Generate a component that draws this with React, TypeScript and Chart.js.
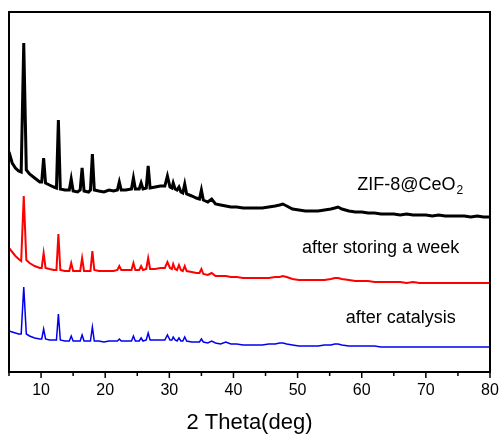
import React, { useEffect, useRef } from "react";
import { Chart, registerables } from "chart.js";

Chart.register(...registerables);

const twoTheta = [
  5.0, 5.5, 6.0, 6.5, 6.9, 7.3, 7.7, 8.2, 9.0, 9.8,
  10.1, 10.4, 10.7, 11.3, 12.0, 12.4, 12.7, 13.0, 13.7, 14.4,
  14.7, 15.0, 15.7, 16.1, 16.4, 16.7, 17.4, 17.7, 18.0, 18.3,
  19.0, 19.8, 20.6, 21.3, 21.9, 22.2, 22.5, 23.2, 24.1, 24.4,
  24.7, 25.3, 25.6, 25.9, 26.4, 26.7, 27.0, 27.8, 28.6, 29.3,
  29.7, 30.1, 30.4, 30.6, 30.9, 31.2, 31.5, 31.8, 32.1, 32.4,
  32.7, 33.5, 34.2, 34.7, 35.0, 35.3, 36.0, 36.6, 37.2, 38.0,
  38.8, 39.6, 40.5, 41.5, 42.5, 43.5, 44.5, 45.5, 46.5, 47.2,
  47.7, 48.3, 49.2, 50.2, 51.2, 52.2, 53.2, 54.2, 55.2, 55.8,
  56.3, 56.9, 58.0, 59.0, 60.0, 61.0, 62.0, 63.0, 64.0, 65.0,
  66.0, 67.0, 68.0, 69.0, 70.0, 71.0, 72.0, 73.0, 74.0, 75.0,
  76.0, 77.0, 78.0, 79.0, 80.0,
];

const zif8CeO2 = [
  220, 209, 204, 201, 200, 329, 202, 198, 194, 190,
  190, 214, 189, 187, 185, 184, 252, 183, 182, 182,
  193, 181, 180, 182, 204, 181, 180, 182, 218, 182,
  181, 180, 182, 181, 182, 190, 182, 182, 183, 194,
  183, 183, 189, 183, 184, 206, 184, 185, 186, 186,
  196, 185, 184, 189, 183, 182, 185, 180, 179, 188,
  178, 176, 174, 173, 182, 172, 170, 173, 168, 167,
  166, 165, 165, 164, 164, 164, 164, 165, 166, 167,
  168, 166, 163, 162, 161, 161, 161, 162, 163, 164,
  165, 163, 161, 160, 160, 159, 159, 158, 158, 158,
  157, 158, 157, 157, 157, 156, 157, 156, 156, 156,
  156, 155, 156, 155, 155,
];

const afterStoring = [
  124, 120, 116, 113, 111, 176, 112, 109, 106, 104,
  104, 119, 104, 103, 102, 102, 138, 102, 101, 101,
  109, 101, 101, 101, 114, 101, 101, 101, 121, 102,
  101, 101, 101, 101, 102, 106, 102, 102, 102, 109,
  102, 102, 106, 102, 103, 114, 103, 103, 104, 104,
  110, 104, 103, 108, 103, 102, 107, 102, 101, 106,
  101, 100, 99, 99, 103, 98, 97, 99, 96, 96,
  96, 95, 95, 94, 94, 94, 94, 94, 95, 95,
  96, 95, 93, 92, 92, 92, 92, 92, 93, 94,
  94, 93, 92, 91, 91, 91, 90, 90, 90, 90,
  90, 89, 90, 89, 89, 89, 89, 89, 89, 89,
  89, 89, 89, 89, 89,
];

const afterCatalysis = [
  41, 40, 39, 38, 38, 85, 38, 36, 34, 33,
  33, 43, 33, 32, 32, 32, 58, 32, 31, 31,
  36, 31, 31, 31, 37, 31, 31, 31, 45, 31,
  31, 30, 31, 31, 31, 33, 31, 31, 31, 36,
  31, 31, 34, 31, 32, 39, 32, 32, 32, 32,
  37, 32, 32, 35, 32, 31, 34, 31, 31, 35,
  31, 30, 30, 30, 33, 30, 29, 31, 29, 28,
  30, 28, 28, 27, 27, 27, 27, 28, 28, 29,
  29, 28, 27, 26, 26, 26, 26, 27, 27, 28,
  28, 27, 26, 26, 26, 26, 26, 25, 25, 25,
  25, 25, 25, 25, 25, 25, 25, 25, 25, 25,
  25, 25, 25, 25, 25,
];

const seriesNames = ["ZIF-8@CeO", "after storing a week", "after catalysis"];
const seriesSub = ["2", "", ""];
const labelX = [59.3, 50.7, 57.5];
const labelY = [187, 124, 54];
const seriesColors = ["#000000", "#ff0000", "#0000f0"];
const seriesWidths = [3, 2, 1.5];

const FONT = '"Liberation Sans", Arial, sans-serif';

const framePlugin = {
  id: "frame",
  afterDraw(chart: any) {
    const { ctx, chartArea } = chart;
    const xs = chart.scales.x;
    const ys = chart.scales.y;
    ctx.save();
    ctx.strokeStyle = "#000";
    ctx.lineWidth = 2;
    ctx.strokeRect(chartArea.left, chartArea.top, chartArea.right - chartArea.left, chartArea.bottom - chartArea.top);
    ctx.lineWidth = 1.5;
    xs.ticks.forEach((t: any) => {
      const px = xs.getPixelForValue(t.value);
      const len = t.value % 10 === 0 ? 6 : 4;
      ctx.beginPath();
      ctx.moveTo(px, chartArea.bottom);
      ctx.lineTo(px, chartArea.bottom + len);
      ctx.stroke();
    });
    ctx.fillStyle = "#000";
    ctx.textBaseline = "middle";
    ctx.textAlign = "left";
    seriesNames.forEach((name, i) => {
      const px = xs.getPixelForValue(labelX[i]);
      const py = ys.getPixelForValue(labelY[i]);
      ctx.font = `18px ${FONT}`;
      ctx.fillText(name, px, py);
      if (seriesSub[i]) {
        const w = ctx.measureText(name).width;
        ctx.font = `12px ${FONT}`;
        ctx.fillText(seriesSub[i], px + w + 1, py + 6);
      }
    });
    ctx.restore();
  },
};

export default function App() {
  const ref = useRef<HTMLCanvasElement | null>(null);
  useEffect(() => {
    if (!ref.current) return;
    const series = [zif8CeO2, afterStoring, afterCatalysis];
    const chart = new Chart(ref.current, {
      type: "line",
      data: {
        datasets: series.map((vals, i) => ({
          label: seriesNames[i] + seriesSub[i],
          data: twoTheta.map((x, j) => ({ x, y: vals[j] })),
          borderColor: seriesColors[i],
          borderWidth: seriesWidths[i],
          pointRadius: 0,
          tension: 0,
          fill: false,
        })),
      },
      options: {
        animation: false,
        responsive: false,
        maintainAspectRatio: false,
        layout: { padding: { left: 9, right: 12, top: 12, bottom: 0 } },
        plugins: { legend: { display: false }, tooltip: { enabled: false } },
        scales: {
          x: {
            type: "linear",
            min: 5,
            max: 80,
            offset: false,
            grid: { display: false, drawTicks: false },
            border: { display: false },
            ticks: {
              stepSize: 5,
              padding: 9,
              color: "#000",
              font: { family: FONT, size: 16 },
              maxRotation: 0,
              autoSkip: false,
              callback: (v: any) => (Number(v) % 10 === 0 && Number(v) !== 0 ? String(v) : ""),
            },
            title: {
              display: true,
              text: "2 Theta(deg)",
              color: "#000",
              font: { family: FONT, size: 22 },
              padding: { top: 4, bottom: 0 },
            },
            afterFit: (s: any) => {
              s.height = 64;
              s.paddingLeft = 0;
              s.paddingRight = 0;
            },
          },
          y: {
            display: false,
            min: 0,
            max: 360,
          },
        },
      },
      plugins: [framePlugin],
    });
    return () => chart.destroy();
  }, []);
  return (
    <div style={{ position: "absolute", left: 0, top: 0, width: 502, height: 436, background: "#fff" }}>
      <canvas ref={ref} width={502} height={436} style={{ width: 502, height: 436 }} />
    </div>
  );
}
